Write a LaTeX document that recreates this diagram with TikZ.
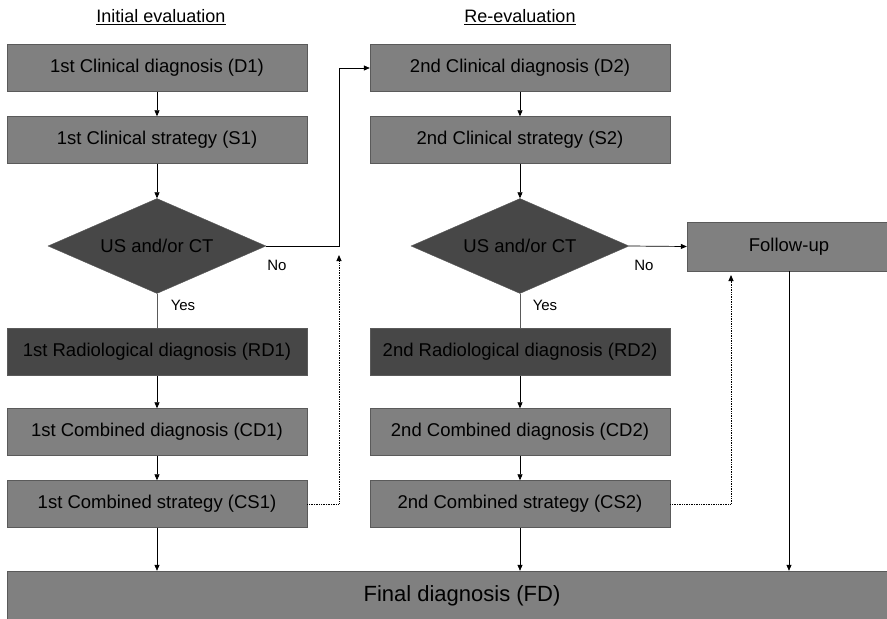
\documentclass[tikz,border=0pt]{standalone}
\usepackage{fontspec}
\setmainfont{Liberation Sans}
\usetikzlibrary{shapes.geometric,arrows.meta}
\definecolor{boxgray}{HTML}{808080}
\definecolor{darkbox}{HTML}{474747}
\definecolor{edgegray}{HTML}{5A5A5A}
\tikzset{
    stepbox/.style={draw=edgegray, fill=boxgray, minimum width=300pt, minimum height=47pt, inner sep=0pt, font=\fontsize{18.5}{20}\selectfont},
    radbox/.style={stepbox, fill=darkbox},
    decision/.style={diamond, aspect=2.3, draw=edgegray, fill=darkbox, minimum width=218pt, minimum height=95pt, inner sep=0pt, font=\fontsize{18.5}{20}\selectfont},
    flow/.style={-{Triangle[length=6pt,width=5pt]}, line width=0.7pt},
    plainline/.style={draw=edgegray, line width=0.8pt},
    feedback/.style={flow, densely dotted, line width=0.9pt},
    answer/.style={font=\fontsize{15}{17}\selectfont},
    heading/.style={font=\fontsize{18}{20}\selectfont}
}
\begin{document}
\begin{tikzpicture}[x=1pt,y=-1pt]
                \useasboundingbox (0,0) rectangle (887,619);
                % headings
                \node[heading] (h1) at (161,17) {\underline{Initial evaluation}};
                \node[heading] (h2) at (520,17) {\underline{Re-evaluation}};
                % initial evaluation
                \node[stepbox] (d1) at (157,68) {1st Clinical diagnosis (D1)};
                \node[stepbox] (s1) at (157,140) {1st Clinical strategy (S1)};
                \node[decision] (us1) at (157,246) {US and/or CT};
                \node[radbox] (rd1) at (157,352) {1st Radiological diagnosis (RD1)};
                \node[stepbox] (cd1) at (157,432) {1st Combined diagnosis (CD1)};
                \node[stepbox] (cs1) at (157,504) {1st Combined strategy (CS1)};
                % re-evaluation
                \node[stepbox] (d2) at (520,68) {2nd Clinical diagnosis (D2)};
                \node[stepbox] (s2) at (520,140) {2nd Clinical strategy (S2)};
                \node[decision] (us2) at (520,246) {US and/or CT};
                \node[radbox] (rd2) at (520,352) {2nd Radiological diagnosis (RD2)};
                \node[stepbox] (cd2) at (520,432) {2nd Combined diagnosis (CD2)};
                \node[stepbox] (cs2) at (520,504) {2nd Combined strategy (CS2)};
                \node[stepbox, minimum width=204pt, minimum height=49pt] (fu) at (789,246.5) {Follow-up};
                \node[stepbox, minimum width=910pt, minimum height=50pt, font=\fontsize{22}{24}\selectfont] (fd) at (462,596) {Final diagnosis (FD)};
                % answers
                \node[answer] (no1) at (277,265) {No};
                \node[answer] (yes1) at (183,305) {Yes};
                \node[answer] (no2) at (644,265) {No};
                \node[answer] (yes2) at (545,305) {Yes};
                \coordinate (jog1) at (339,246);
                \coordinate (up1) at (339,255);
                \coordinate (up2) at (731,275);
                % connectors
                \draw[flow] (d1) -- (s1);
                \draw[flow] (s1) -- (us1);
                \draw[plainline] (us1) -- (rd1);
                \draw[flow] (rd1) -- (cd1);
                \draw[flow] (cd1) -- (cs1);
                \draw[flow] (cs1) -- (cs1 |- fd.north);
                \draw[flow] (us1.east) -- (jog1) |- (d2.west);
                \draw[feedback] (cs1.east) -| (up1);
                \draw[flow] (d2) -- (s2);
                \draw[flow] (s2) -- (us2);
                \draw[plainline] (us2) -- (rd2);
                \draw[flow] (rd2) -- (cd2);
                \draw[flow] (cd2) -- (cs2);
                \draw[flow] (cs2) -- (cs2 |- fd.north);
                \draw[flow] (us2.east) -- (fu.west);
                \draw[feedback] (cs2.east) -| (up2);
                \draw[flow] (fu.south) -- (fu.south |- fd.north);
\end{tikzpicture}
\end{document}
